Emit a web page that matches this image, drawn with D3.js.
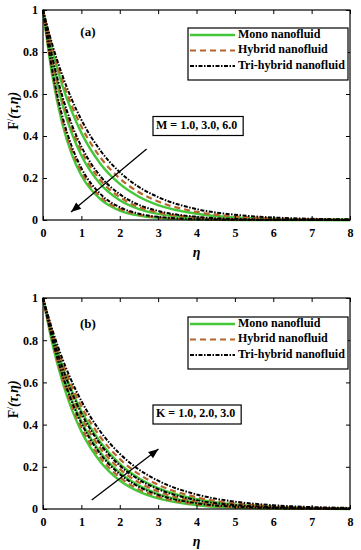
<!DOCTYPE html>
<html><head><meta charset="utf-8">
<script src="https://cdn.jsdelivr.net/npm/d3@7"></script>
<style>
body{margin:0;background:#fff;}
svg text{font-family:"Liberation Serif","Times New Roman",serif;font-weight:bold;}
</style></head>
<body><svg id="c" width="361" height="550"></svg>
<script>
const eta = [0,0.25,0.5,0.75,1,1.5,2,2.5,3,4,5,6,8];
const xTicks = [0,1,2,3,4,5,6,7,8];
const yTicks = [0,0.2,0.4,0.6,0.8,1];
const yTickLabels = ["0","0.2","0.4","0.6","0.8","1"];
const fluids = ["Mono nanofluid","Hybrid nanofluid","Tri-hybrid nanofluid"];

// Panel (a): M = 1.0, 3.0, 6.0
const aMono = [
 [1,0.803,0.644,0.517,0.415,0.267,0.172,0.111,0.071,0.030,0.012,0.005,0.001],
 [1,0.745,0.554,0.413,0.307,0.170,0.094,0.052,0.029,0.009,0.003,0.001,0.000],
 [1,0.679,0.461,0.313,0.212,0.098,0.045,0.021,0.010,0.002,0.000,0.000,0.000]];
const aHybrid = [
 [1,0.817,0.667,0.545,0.445,0.297,0.198,0.132,0.088,0.039,0.017,0.008,0.002],
 [1,0.758,0.574,0.435,0.330,0.189,0.109,0.062,0.036,0.012,0.004,0.001,0.000],
 [1,0.693,0.480,0.332,0.230,0.110,0.053,0.025,0.012,0.003,0.001,0.000,0.000]];
const aTri = [
 [1,0.831,0.691,0.574,0.477,0.330,0.228,0.157,0.109,0.052,0.025,0.012,0.003],
 [1,0.769,0.592,0.455,0.350,0.207,0.123,0.072,0.043,0.015,0.005,0.002,0.000],
 [1,0.705,0.497,0.350,0.247,0.123,0.061,0.030,0.015,0.004,0.001,0.000,0.000]];

// Panel (b): K = 1.0, 2.0, 3.0
const bMono = [
 [1,0.779,0.607,0.472,0.368,0.223,0.135,0.082,0.050,0.018,0.007,0.003,0.000],
 [1,0.803,0.644,0.517,0.415,0.267,0.172,0.111,0.071,0.030,0.012,0.005,0.001],
 [1,0.825,0.681,0.561,0.463,0.315,0.214,0.146,0.099,0.046,0.021,0.010,0.002]];
const bHybrid = [
 [1,0.789,0.622,0.490,0.387,0.241,0.150,0.093,0.058,0.022,0.009,0.003,0.001],
 [1,0.813,0.660,0.537,0.436,0.288,0.190,0.126,0.083,0.036,0.016,0.007,0.001],
 [1,0.835,0.698,0.583,0.487,0.340,0.237,0.165,0.115,0.056,0.027,0.013,0.003]];
const bTri = [
 [1,0.799,0.638,0.509,0.407,0.259,0.165,0.105,0.067,0.027,0.011,0.005,0.001],
 [1,0.821,0.674,0.553,0.454,0.306,0.206,0.139,0.094,0.042,0.019,0.009,0.002],
 [1,0.846,0.715,0.605,0.512,0.366,0.262,0.187,0.134,0.069,0.035,0.018,0.005]];

const styles = [
 {color:"#44c83a", dash:null, w:2.4},
 {color:"#b8642c", dash:"6,4", w:2.2},
 {color:"#000000", dash:"4,1.5,1.5,1.5", w:2}
];

const svg = d3.select("#c");

function panel(cfg){
  const x = d3.scaleLinear().domain([0,8]).range([43,350]);
  const y = d3.scaleLinear().domain([0,1]).range([cfg.y0,cfg.y1]);
  const g = svg.append("g");
  const line = d3.line().x((d,i)=>x(eta[i])).y(d=>y(d)).curve(d3.curveMonotoneX);
  const sets = [cfg.mono,cfg.hybrid,cfg.tri];
  sets.forEach((set,k)=>{
    set.forEach(vals=>{
      g.append("path").attr("d",line(vals)).attr("fill","none")
       .attr("stroke",styles[k].color).attr("stroke-width",styles[k].w)
       .attr("stroke-dasharray",styles[k].dash);
    });
  });
  // frame
  g.append("rect").attr("x",x(0)).attr("y",y(1)).attr("width",x(8)-x(0)).attr("height",y(0)-y(1))
   .attr("fill","none").attr("stroke","#000").attr("stroke-width",1.2);
  // axes
  const ax = g.append("g").attr("transform",`translate(0,${y(0)})`)
    .call(d3.axisBottom(x).tickValues(xTicks).tickSize(-4).tickPadding(8).tickFormat(d3.format("d")));
  const axT = g.append("g").attr("transform",`translate(0,${y(1)})`)
    .call(d3.axisTop(x).tickValues(xTicks).tickSize(-4).tickFormat(""));
  const ay = g.append("g").attr("transform",`translate(${x(0)},0)`)
    .call(d3.axisLeft(y).tickValues(yTicks).tickSize(-4).tickPadding(5).tickFormat((d,i)=>yTickLabels[i]));
  const ayR = g.append("g").attr("transform",`translate(${x(8)},0)`)
    .call(d3.axisRight(y).tickValues(yTicks).tickSize(-4).tickFormat(""));
  [ax,axT,ay,ayR].forEach(a=>{
    a.select(".domain").remove();
    a.selectAll("line").attr("stroke","#000");
    a.selectAll("text").attr("font-size",12).attr("fill","#000")
     .style("font-family","'Liberation Serif',serif").style("font-weight","bold");
  });
  // x label
  g.append("text").attr("x",(x(0)+x(8))/2).attr("y",y(0)+37).attr("text-anchor","middle")
   .attr("font-size",14).attr("font-style","italic").text("η");
  // y label
  const yl = g.append("text").attr("transform",`translate(18,${y(0.52)}) rotate(-90)`)
   .attr("text-anchor","middle").attr("font-size",14);
  yl.append("tspan").text("F");
  yl.append("tspan").attr("dy",-5).attr("font-size",9).text("/");
  yl.append("tspan").attr("dy",5).attr("font-style","italic").text("(τ,η)");
  // panel tag
  g.append("text").attr("x",x(1.17)).attr("y",y(cfg.tagY)).attr("text-anchor","middle")
   .attr("dominant-baseline","middle").attr("font-size",13).text(cfg.tag);
  // legend
  const lg = g.append("g");
  lg.append("rect").attr("x",188).attr("y",cfg.legY).attr("width",160).attr("height",52)
    .attr("fill","#fff").attr("stroke","#000").attr("stroke-width",1.2);
  fluids.forEach((f,k)=>{
    const yy = cfg.legY + 7 + k*15.5;
    lg.append("line").attr("x1",190).attr("x2",235).attr("y1",yy).attr("y2",yy)
      .attr("stroke",styles[k].color).attr("stroke-width",styles[k].w)
      .attr("stroke-dasharray",styles[k].dash);
    lg.append("text").attr("x",238).attr("y",yy).attr("dominant-baseline","middle")
      .attr("font-size",12).text(f);
  });
  // annotation box
  const bx = g.append("g");
  const t = bx.append("text").attr("x",cfg.annX).attr("y",cfg.annY).attr("dominant-baseline","middle")
     .attr("font-size",12).text(cfg.ann);
  const bb = t.node().getBBox();
  bx.insert("rect","text").attr("x",bb.x-3).attr("y",cfg.annY-9.5).attr("width",bb.width+9).attr("height",19)
    .attr("fill","#fff").attr("stroke","#000").attr("stroke-width",1.2);
  // arrow
  const [p0,p1] = cfg.arrow;
  const X0=x(p0[0]),Y0=y(p0[1]),X1=x(p1[0]),Y1=y(p1[1]);
  g.append("line").attr("x1",X0).attr("y1",Y0).attr("x2",X1).attr("y2",Y1)
   .attr("stroke","#000").attr("stroke-width",1.3);
  const ang = Math.atan2(Y1-Y0,X1-X0), L=10, W=4;
  const hx = X1-L*Math.cos(ang), hy = Y1-L*Math.sin(ang);
  g.append("path").attr("d",`M${X1},${Y1}L${hx+W*Math.sin(ang)},${hy-W*Math.cos(ang)}L${hx-W*Math.sin(ang)},${hy+W*Math.cos(ang)}Z`)
   .attr("fill","#000");
}

panel({y0:220,y1:10,mono:aMono,hybrid:aHybrid,tri:aTri,tag:"(a)",tagY:0.89,legY:28,
  ann:"M = 1.0, 3.0, 6.0",annX:156,annY:126,arrow:[[2.70,0.338],[0.73,0.038]]});
panel({y0:509,y1:298,mono:bMono,hybrid:bHybrid,tri:bTri,tag:"(b)",tagY:0.872,legY:317,
  ann:"K = 1.0, 2.0, 3.0",annX:156,annY:414.5,arrow:[[1.27,0.043],[3.01,0.284]]});
</script></body></html>
